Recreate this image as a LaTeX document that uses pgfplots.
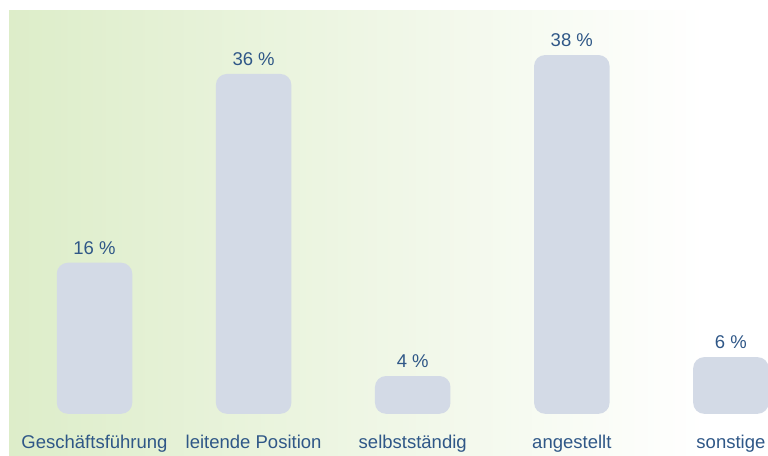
\documentclass[border=0pt]{standalone}
\usepackage{fontspec}
\setmainfont{Liberation Sans}
\usepackage{pgfplots}
\pgfplotsset{compat=1.18}
\definecolor{bgg}{HTML}{DDEDC9}
\definecolor{barc}{HTML}{D3DAE6}
\definecolor{txt}{HTML}{2F5787}
\begin{document}
\begin{tikzpicture}
\path[use as bounding box] (0,0) rectangle (384pt,228pt);
\shade[left color=bgg, right color=white] (4.5pt,0) rectangle (352.5pt,222.5pt);
\begin{axis}[
  at={(0,0)}, anchor=south west,
  scale only axis, width=384pt, height=228pt,
  xmin=-0.594, xmax=4.233, ymin=-4.47, ymax=43.83,
  axis line style={draw=none},
  major tick length=0pt,
  ytick=\empty,
  xtick={0,1,2,3,4},
  xticklabels={Geschäftsführung, leitende Position, selbstständig, angestellt, sonstige},
  xticklabel style={anchor=base, yshift=3.5pt, text=txt, font=\fontsize{9.25}{11}\selectfont},
  clip=false,
  ybar, bar width=37.75pt,
  /pgf/number format/assume math mode=true,
  nodes near coords={\pgfmathprintnumber{\pgfplotspointmeta}~\%},
  every node near coord/.append style={anchor=base, yshift=4.25pt, inner sep=0pt, text=txt, font=\fontsize{9.25}{11}\selectfont},
]
\addplot[fill=barc, draw=none, rounded corners=5.5pt] coordinates {(0,16) (1,36) (2,4) (3,38) (4,6)};
\end{axis}
\end{tikzpicture}
\end{document}
